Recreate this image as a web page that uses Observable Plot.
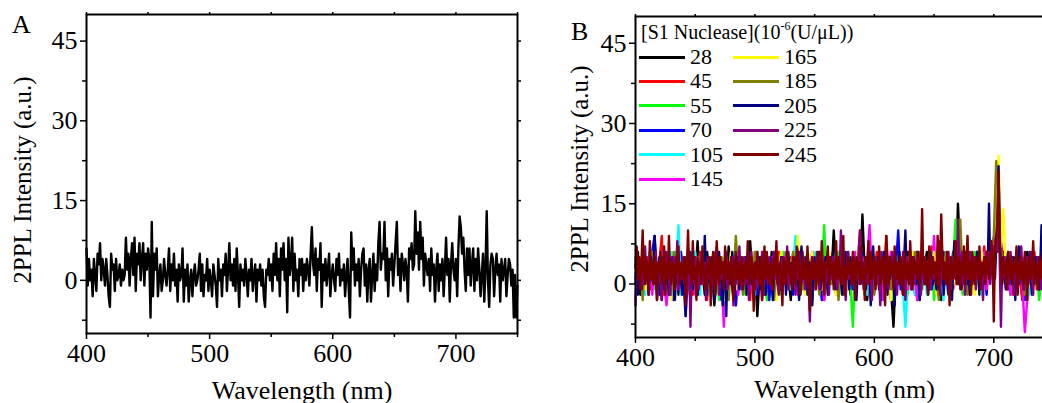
<!DOCTYPE html>
<html><head><meta charset="utf-8">
<script src="https://cdn.jsdelivr.net/npm/d3@7"></script>
<script src="https://cdn.jsdelivr.net/npm/@observablehq/plot@0.6"></script>
<style>
html,body{margin:0;padding:0;background:#fff;overflow:hidden;width:1042px;height:403px}
#wrap{position:relative;width:1042px;height:403px;overflow:hidden;font-family:"Liberation Serif","Times New Roman",serif;color:#000}
.panel{position:absolute;top:0}
.panel svg{max-width:none !important;display:block}
.letter{position:absolute;font-size:26px;line-height:1}
#legend{position:absolute;left:0;top:0}
.ltitle{position:absolute;left:641px;top:22px;font-size:20px;line-height:1;white-space:nowrap}
.ltitle sup{font-size:12px;vertical-align:9px;line-height:0}
.lrow{position:absolute;height:24px;display:flex;align-items:center;font-size:22px;white-space:nowrap}
.lrow span.sw{display:inline-block;width:46px;height:3px;margin-right:5px}
</style></head>
<body>
<div id="wrap">
  <div id="a" class="panel" style="left:0;width:530px"></div>
  <div id="b" class="panel" style="left:520px;width:553px"></div>
  <div class="letter" style="left:12px;top:12px">A</div>
  <div class="letter" style="left:571px;top:19px">B</div>
  <div id="legend"></div>
</div>
<script>
// ---------- axes ----------
const xMajor = [400, 500, 600, 700];
const xMinor = [450, 550, 650, 750];
const yMajor = [0, 15, 30, 45];
const yMinor = [-7.5, 7.5, 22.5, 37.5];
const xDomain = [400, 750];
const yDomain = [-10, 50];
const xTitle = "Wavelength (nm)";
const yTitle = "2PPL Intensity (a.u.)";

// ---------- panel A (1 nm step, 400..750) ----------
const stepA = 1;
const intensityA = [
6,-1,4,0,2,-3,4,1,-2,5,
3,7,0,4,2,-1,4,1,-3,-5,
5,2,3,-2,4,0,1,3,-1,2,
0,1,8,2,5,-1,4,7,1,8,
-2,5,3,7,0,4,7,-1,5,2,
6,4,-7,11,-3,5,2,6,-3,1,
3,-2,0,4,1,-1,2,6,-2,3,
0,5,-1,2,-4,3,0,1,6,-4,
2,-1,3,-4,0,2,-3,1,3,-1,
0,2,5,-2,3,-3,1,0,4,-2,
2,0,-3,3,1,-1,-5,4,0,2,
-3,3,1,5,-2,2,7,0,3,-1,
4,-2,6,1,-5,3,0,2,-1,4,
1,-3,2,0,4,-2,1,3,-4,2,
0,3,-1,2,-3,-5,2,1,4,0,
3,-2,5,1,7,0,4,-3,6,2,
7,0,4,-6,8,1,3,8,-2,5,
0,2,-3,4,1,4,-2,3,0,4,
2,-1,5,10,3,1,6,-2,4,2,
7,-5,3,0,4,-1,2,5,-3,1,
3,0,-2,4,1,5,-1,2,0,3,
-3,1,4,-2,-7,9,2,6,-1,3,
0,4,-3,2,5,6,-1,3,-4,2,
4,-4,1,5,-2,3,0,7,11,2,
5,4,11,0,6,-3,4,2,5,-1,
3,7,11,1,4,-2,5,3,0,4,
2,-4,6,4,7,2,3,13,5,9,
2,11,4,8,-1,5,3,1,4,-2,
6,1,3,-4,2,5,-2,3,0,4,
-3,2,8,1,4,-4,3,7,2,0,
4,-3,6,12,10,5,8,2,-2,6,
1,6,-1,3,6,-2,4,0,6,2,
-3,1,5,-4,2,13,0,-5,3,5,
4,-3,2,5,1,3,-4,4,0,2,
4,-3,1,4,3,-1,2,-7,1,-7,
-1];

// ---------- panel B (400..750; nm step per series) ----------
const seriesLabels = ["28","45","55","70","105","145","165","185","205","225","245"];
const seriesColors = ["#000000","#ff0000","#00ff00","#0000ff","#00ffff","#ff00ff","#ffff00","#808000","#000080","#800080","#800000"];
const seriesStep = [2,2,2,2,2,2,2,2,1,1,1];

const s28 = [
3,6,-2,4,1,5,-1,2,7,0,3,-3,4,2,-1,5,1,6,-2,3,0,4,
2,-3,5,1,8,0,3,-2,6,1,4,-4,2,5,0,3,-1,7,2,-3,4,1,
5,0,3,-2,8,1,4,-6,2,5,0,3,-2,6,1,4,-1,3,0,5,2,-3,
4,1,6,-2,3,0,5,2,-3,4,1,6,0,-2,3,5,1,10,2,-1,4,0,
3,6,-2,4,1,5,0,13,2,-3,5,1,4,0,6,-2,3,1,5,-1,-8,2,
4,0,3,-2,6,1,4,2,-3,5,0,3,6,-1,2,4,0,7,-3,3,1,5,
2,6,0,15,4,3,-1,5,2,0,4,6,-2,3,1,5,7,3,6,9,20,4,
6,1,4,-2,3,5,0,2,-3,4,6,1,-1,3,5,0,2,4,-2,3,1,0];
const s45 = [
2,4,0,5,-1,3,6,1,3,0,4,9,-2,3,5,1,-3,4,2,6,0,3,
5,1,-2,4,2,6,0,3,-3,5,1,4,7,0,2,-2,5,3,1,4,-4,2,
3,0,5,2,-3,4,1,6,0,3,-2,5,2,4,1,-1,6,3,0,4,2,5,
1,4,-2,3,6,0,5,2,-1,4,3,0,6,-3,2,5,1,3,-2,4,0,6,
2,5,-1,3,0,4,10,1,3,-2,5,2,0,6,-1,4,2,9,1,-3,3,0,
5,2,-2,4,1,6,0,3,2,-3,5,1,4,0,7,2,-1,4,3,0,5,1,
3,-1,4,6,2,0,5,3,-2,4,1,6,0,3,7,2,4,6,5,10,19,8,
4,0,3,5,-2,2,4,1,-3,5,2,0,3,6,-1,2,4,0,3,-2,5,1];
const s55 = [
4,1,5,-2,3,0,6,2,-1,4,1,3,5,-3,2,4,0,6,1,3,-2,5,
0,3,6,-1,2,4,1,5,-2,3,0,4,2,-3,5,1,3,0,6,-1,2,4,
1,5,-2,3,0,4,2,6,-1,3,1,-3,4,0,5,2,3,-2,6,1,4,0,
3,-1,5,2,0,4,6,1,-3,3,2,5,0,11,-1,4,2,3,0,6,1,-2,
4,2,0,-8,3,5,1,4,-2,3,6,0,2,4,-1,5,3,0,4,1,-3,2,
5,0,3,6,-2,2,4,1,5,-1,3,0,4,2,6,-3,1,4,3,0,5,2,
1,4,12,0,3,-2,5,2,4,1,6,0,3,-1,4,2,5,3,7,8,18,6,
3,5,1,-2,4,0,3,6,2,-1,4,1,5,0,3,-3,2,4,1,5,0,3];
const s70 = [
1,5,2,-1,4,0,3,6,9,2,-2,4,1,5,0,3,-3,4,2,6,1,-6,
3,0,5,2,-2,4,1,6,0,3,-1,5,2,4,-3,1,3,0,5,2,-4,4,
2,-1,4,0,6,3,1,-2,5,2,0,4,-3,3,6,1,2,-1,4,0,5,3,
-2,4,1,5,0,3,2,-1,6,4,0,3,-3,2,5,1,4,0,3,-2,6,2,
0,4,2,-1,5,3,1,6,-2,2,4,0,3,1,5,-3,4,2,0,6,1,3,
10,-1,4,2,0,5,3,-2,6,1,4,0,2,5,-1,3,1,4,0,6,2,-2,
4,1,5,0,3,2,6,-1,4,1,3,5,0,2,4,-2,6,3,5,9,19,5,
2,4,-1,3,5,0,2,6,1,-3,4,2,0,5,3,-1,4,1,6,0,2,-2];
const s105 = [
2,5,0,3,-2,4,1,6,3,0,5,2,-1,4,3,6,1,1,11,-2,4,2,
4,0,3,6,1,-2,5,2,4,0,3,-1,6,2,1,4,-3,3,0,5,2,4,
-1,3,5,0,4,2,-2,6,1,3,0,4,2,5,-3,3,1,6,0,2,4,-1,
3,9,0,4,2,-2,5,1,3,6,0,4,-1,2,5,3,0,4,6,-2,3,1,
5,0,3,2,-1,4,6,1,3,-2,5,0,4,2,1,6,-3,3,0,4,2,5,
1,3,-1,-8,0,5,2,-2,3,6,1,4,-2,3,0,5,2,4,1,-3,6,2,
3,0,5,2,4,-1,3,6,1,4,0,2,5,-2,3,1,4,7,6,8,18,5,
4,2,0,5,3,-1,6,2,4,0,3,-2,5,1,4,2,0,6,3,-1,2,4];
const s145 = [
-3,3,1,4,0,5,2,-2,4,1,3,6,0,-4,2,5,1,3,-1,4,2,0,
5,1,3,-2,4,0,6,2,-1,3,1,5,0,4,2,-8,3,1,5,0,3,-2,
4,2,0,5,-1,3,6,1,2,-3,4,0,3,5,1,-2,4,2,0,6,1,3,
0,4,-2,3,5,1,2,0,6,-1,3,4,2,-3,5,0,3,1,4,-2,2,5,
1,-1,4,2,6,0,3,5,-2,4,11,1,3,0,5,2,-3,4,1,6,0,3,
2,5,0,3,-1,4,6,1,-3,3,2,5,0,4,1,9,-2,3,0,5,2,4,
-1,3,5,0,4,2,-2,6,1,3,0,4,5,2,6,-1,3,4,7,9,19,3,
5,0,3,-2,4,1,6,2,0,-9,-3,4,1,2,5,3,3,0,4,1,-2,2];
const s165 = [
3,0,4,6,-1,2,5,1,3,-2,4,0,6,2,1,-3,5,3,0,4,2,1,
4,-2,3,1,5,0,2,6,-1,3,4,0,2,5,1,-3,3,0,6,2,-1,4,
0,3,5,-2,4,1,6,0,3,2,-1,5,3,0,4,-3,2,6,1,3,0,4,
5,2,9,0,4,-2,3,1,6,0,3,5,-1,2,4,0,6,3,-2,4,1,3,
2,-1,5,3,0,6,1,4,-2,3,2,5,0,4,-1,3,6,1,2,-3,4,0,
3,5,1,-2,4,0,6,2,3,-1,5,1,4,0,2,6,-2,3,1,4,0,5,
2,4,0,3,6,-1,2,5,1,3,-2,4,0,6,2,3,5,4,6,10,24,7,
14,3,0,5,2,-1,4,6,1,3,-2,2,5,0,4,1,3,-1,6,2,0,4];
const s185 = [
5,1,3,-3,4,0,2,6,1,-1,4,3,0,5,2,-2,6,1,3,0,4,2,
1,4,0,3,-2,5,2,6,0,3,1,-1,4,2,5,0,3,-3,4,1,9,2,
3,-2,5,1,4,0,6,2,-1,3,5,0,4,1,-3,3,2,5,0,4,-1,3,
6,0,2,4,-1,3,5,1,0,4,2,-2,6,3,1,5,0,2,4,-3,3,1,
4,2,0,5,-1,3,6,1,4,0,2,5,-2,3,1,4,0,6,3,-1,5,2,
0,4,2,-2,5,3,1,6,0,3,-1,4,2,5,0,3,1,-3,4,2,6,0,
3,5,1,4,12,0,3,-2,5,2,4,1,6,0,3,2,5,7,9,23,16,4,
2,5,0,3,-1,4,6,1,3,-2,5,2,0,4,1,3,6,0,2,5,3,1];
const s205 = [
0,4,-2,5,1,-1,3,6,0,2,
4,-2,3,5,1,0,9,3,-3,2,
5,1,3,-1,4,6,0,2,-2,4,
1,5,3,-3,2,6,0,4,1,-2,
3,5,-6,2,4,0,6,1,-1,3,
5,2,-2,4,0,3,6,1,9,2,
-2,4,1,3,5,0,-3,2,4,1,
6,0,3,-4,2,5,-6,3,1,4,
0,6,2,-2,3,5,1,-1,4,2,
0,3,5,-2,4,1,6,0,3,-3,
2,4,1,5,-1,3,0,6,2,-2,
4,1,3,5,0,-3,2,4,6,1,
3,-1,5,2,0,4,-2,3,6,1,
2,4,-1,3,5,0,2,-3,4,7,
1,3,0,5,-2,2,4,1,-4,3,
5,0,2,6,1,-1,4,3,0,5,
2,-2,4,1,3,6,0,2,-1,4,
3,5,1,-2,4,0,6,2,3,-1,
5,1,3,0,4,-3,2,6,1,3,
0,4,2,-1,5,3,1,-4,4,7,
2,0,3,5,-1,4,1,3,6,0,
2,-2,4,1,5,3,0,-4,2,4,
1,6,0,3,-2,5,10,2,4,0,
3,-1,5,2,4,0,6,1,-3,3,
2,5,0,4,1,-2,3,6,2,0,
4,1,-1,5,3,0,2,6,-2,3,
1,4,0,5,2,-3,3,8,1,4,
0,2,5,-1,3,4,1,6,0,2,
-2,4,3,5,1,0,6,2,-1,4,
3,1,5,0,6,4,15,3,2,6,
4,1,7,9,22,8,3,0,5,2,
-1,4,6,1,3,0,5,2,-3,4,
1,7,0,3,2,-1,5,4,0,3,
6,1,-2,4,2,5,0,3,-1,4,
11,2,5,0,3,-3,4,1,6,2,
3];
const s225 = [
-4,3,1,5,2,-1,4,0,7,2,
3,-2,5,1,4,0,3,6,-1,2,
4,1,-3,5,2,0,6,3,1,-2,
4,2,5,0,3,8,-1,4,2,1,
5,0,3,-2,4,6,-8,2,3,0,
5,1,4,-1,3,6,2,0,4,-3,
2,5,1,3,-1,4,0,6,2,3,
-2,5,1,4,0,3,6,-1,2,4,
1,5,-4,3,0,4,2,7,1,-1,
3,5,0,4,2,-3,3,6,1,2,
4,-1,5,0,3,2,6,-2,4,1,
3,0,5,2,-1,4,6,1,3,0,
-2,4,2,5,0,3,1,7,-1,4,
2,0,5,3,-2,4,1,6,2,0,
3,5,-1,4,2,0,-7,3,5,1,
4,0,6,2,-1,3,5,1,4,0,
2,6,-2,3,1,5,0,4,2,-1,
5,3,10,0,4,2,-3,3,6,1,
2,4,0,5,-2,3,1,6,10,2,
4,-1,3,5,0,2,6,1,-3,4,
2,5,0,3,1,-4,6,4,0,3,
5,1,-1,4,2,6,0,3,5,-2,
3,1,4,0,6,2,-3,5,3,1,
4,-1,2,5,0,3,6,1,4,-2,
3,5,1,0,4,2,6,-1,3,5,
1,4,0,2,8,-2,3,5,1,4,
0,3,6,2,-1,4,1,5,3,0,
12,4,2,6,0,3,-2,5,1,4,
6,2,0,3,5,-1,4,2,6,1,
3,-3,4,1,5,2,6,0,3,7,
5,8,9,6,20,4,-8,3,1,5,
2,-1,4,0,6,3,1,-2,4,5,
1,3,0,7,2,-1,4,3,5,0,
2,6,1,-2,4,3,0,5,2,4,
-1,3,6,1,4,0,2,5,-2,3,
2];
const s245 = [
3,7,1,5,-1,4,10,2,0,5,
3,-2,8,1,4,0,5,3,-3,4,
2,6,0,3,7,-2,4,1,9,2,
0,4,3,-1,5,2,7,0,3,4,
1,5,-4,3,10,2,4,0,8,1,
3,-3,5,2,4,0,7,3,1,-1,
4,2,5,-4,3,6,1,-2,8,3,
0,5,2,4,-1,7,3,1,4,0,
5,2,-3,3,6,1,4,0,2,5,
-1,3,4,1,8,0,2,5,3,-5,
4,1,6,2,0,5,-3,3,7,1,
6,2,0,4,3,-1,5,2,8,0,
3,4,1,-4,5,3,0,6,2,4,
1,-1,5,3,0,7,6,2,-2,3,
5,1,4,0,7,2,-5,3,5,1,
4,-1,3,6,0,2,8,1,-2,4,
3,7,0,5,2,4,-1,3,8,1,
5,2,0,4,9,-2,3,1,5,2,
4,0,6,3,-3,5,2,4,0,7,
1,3,-3,5,2,8,0,6,1,3,
5,-1,4,2,7,0,3,5,1,-4,
9,3,0,5,2,4,-1,7,3,1,
4,0,5,2,-2,6,3,1,4,0,
8,3,-1,5,2,4,1,6,0,3,
14,2,5,0,4,-2,7,3,1,5,
2,4,0,9,-1,3,13,5,1,4,
0,6,2,-4,5,3,1,4,8,0,
3,5,-1,4,2,7,0,3,9,1,
4,-2,6,2,0,5,3,1,7,-1,
4,2,5,0,6,3,1,4,8,5,
-7,6,9,12,21,7,3,0,5,2,
4,-1,6,3,1,5,0,4,2,7,
-2,3,5,1,4,0,6,2,-3,4,
5,1,3,8,0,4,2,-1,5,3,
1,6,0,4,2,5,-2,3,1,4,
2];
const seriesValues = [s28,s45,s55,s70,s105,s145,s165,s185,s205,s225,s245];

// ---------- tables ----------
const tableA = intensityA.map((v, i) => ({nm: 400 + i * stepA, v}));
const tableB = seriesValues.flatMap((arr, k) =>
  arr.map((v, i) => ({nm: 400 + i * seriesStep[k], v, s: seriesLabels[k]})));

function frameMarks(opt) {
  return [
    Plot.frame({stroke: "#000", strokeWidth: 2}),
    Plot.axisX({anchor: "bottom", ticks: xMajor, tickSize: 6, tickPadding: 4, strokeWidth: 1.5,
      tickFormat: d => String(d), label: null, fontSize: 26}),
    Plot.axisX({anchor: "bottom", ticks: xMinor, tickSize: 4, strokeWidth: 1.5, tickFormat: () => "", label: null}),
    Plot.axisX({anchor: "top", ticks: xMajor.concat(xMinor), tickSize: 3, strokeWidth: 1.5, tickFormat: () => "", label: null}),
    Plot.axisY({anchor: "left", ticks: yMajor, tickSize: 6, tickPadding: 3, strokeWidth: 1.5,
      tickFormat: d => String(d), label: null, fontSize: 26}),
    Plot.axisY({anchor: "left", ticks: yMinor, tickSize: 4, strokeWidth: 1.5, tickFormat: () => "", label: null}),
    Plot.axisY({anchor: "right", ticks: yMajor.concat(yMinor), tickSize: 3, strokeWidth: 1.5, tickFormat: () => "", label: null}),
    Plot.text([xTitle], {frameAnchor: "bottom", text: d => d, dy: opt.xdy, textAnchor: "middle", lineAnchor: "bottom", fontSize: 26}),
    Plot.text([yTitle], {frameAnchor: "left", text: d => d, dx: opt.ydx, dy: opt.ydy, rotate: -90, textAnchor: "middle", lineAnchor: "top", fontSize: 25})
  ];
}

const common = {
  height: 403,
  x: {domain: xDomain},
  y: {domain: yDomain},
  style: {fontFamily: "'Liberation Serif','Times New Roman',serif", color: "#000", background: "transparent", overflow: "visible"}
};

const plotA = Plot.plot({
  ...common,
  width: 530, marginLeft: 86, marginRight: 13, marginTop: 14, marginBottom: 70,
  marks: [
    Plot.line(tableA, {x: "nm", y: "v", stroke: "#000", strokeWidth: 2.4}),
    ...frameMarks({xdy: 65, ydx: -73, ydy: 6})
  ]
});
document.getElementById("a").appendChild(plotA);

const plotB = Plot.plot({
  ...common,
  width: 553, marginLeft: 115, marginRight: 20, marginTop: 16, marginBottom: 66,
  color: {domain: seriesLabels, range: seriesColors},
  marks: [
    Plot.line(tableB, {x: "nm", y: "v", z: "s", stroke: "s", strokeWidth: 2.4}),
    ...frameMarks({xdy: 60, ydx: -65, ydy: -8})
  ]
});
document.getElementById("b").appendChild(plotB);

// ---------- legend ----------
const leg = document.getElementById("legend");
const t = document.createElement("div");
t.className = "ltitle";
t.innerHTML = "[S1 Nuclease](10<sup>-6</sup>(U/\u03BCL))";
leg.appendChild(t);
seriesLabels.forEach((lab, i) => {
  const col = i < 6 ? 0 : 1;
  const row = col === 0 ? i : i - 6;
  const d = document.createElement("div");
  d.className = "lrow";
  d.style.left = (col === 0 ? 639 : 733) + "px";
  d.style.top = (45 + row * 24.4) + "px";
  const sw = document.createElement("span");
  sw.className = "sw";
  sw.style.background = seriesColors[i];
  d.appendChild(sw);
  d.appendChild(document.createTextNode(lab));
  leg.appendChild(d);
});
</script>
</body></html>
